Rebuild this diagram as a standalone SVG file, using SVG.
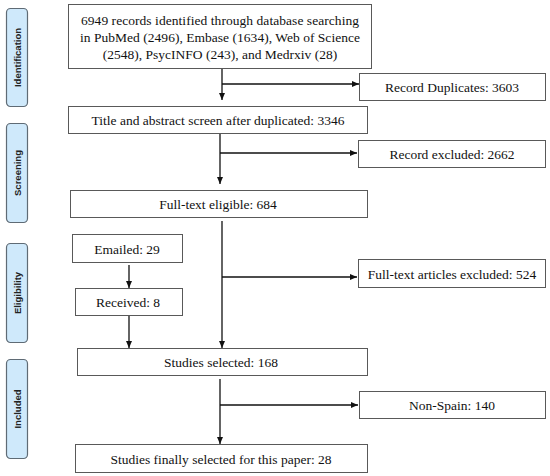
<svg xmlns="http://www.w3.org/2000/svg" width="550" height="476" viewBox="0 0 550 476">
<style>
.box{fill:#fff;stroke:#595959;stroke-width:1}
.t{font-family:"Liberation Serif","Times New Roman",serif;font-size:13.5px;fill:#111;text-anchor:middle}
.side{fill:#cfe9fb;stroke:#5f6b75;stroke-width:1.2}
.st{font-family:"Liberation Sans",Arial,sans-serif;font-size:9.5px;font-weight:bold;fill:#222;text-anchor:middle}
.c{fill:none;stroke:#111;stroke-width:1.3}
</style>
<defs>
<marker id="ah" markerWidth="8" markerHeight="8" refX="7" refY="4" orient="auto" markerUnits="userSpaceOnUse">
<path d="M0,1 L7,4 L0,7 Z" fill="#111"/>
</marker>
</defs>
<rect width="550" height="476" fill="#fff"/>
<g id="phase-identification">
<rect class="side" x="6.5" y="8.5" width="21" height="98" rx="4"/>
<text class="st" transform="translate(20.5,57.5) rotate(-90)">Identification</text>
</g>
<g id="phase-screening">
<rect class="side" x="6.5" y="123.5" width="21" height="99" rx="4"/>
<text class="st" transform="translate(20.5,173) rotate(-90)">Screening</text>
</g>
<g id="phase-eligibility">
<rect class="side" x="6.5" y="243.5" width="21" height="99" rx="4"/>
<text class="st" transform="translate(20.5,293) rotate(-90)">Eligibility</text>
</g>
<g id="phase-included">
<rect class="side" x="6.5" y="359.5" width="21" height="99" rx="4"/>
<text class="st" transform="translate(20.5,409) rotate(-90)">Included</text>
</g>
<g id="connectors">
<line class="c" x1="222" y1="68" x2="222" y2="100" marker-end="url(#ah)"/>
<line class="c" x1="222" y1="84" x2="359" y2="84" marker-end="url(#ah)"/>
<line class="c" x1="220" y1="133" x2="220" y2="184" marker-end="url(#ah)"/>
<line class="c" x1="220" y1="153" x2="357" y2="153" marker-end="url(#ah)"/>
<line class="c" x1="129" y1="265" x2="129" y2="288" marker-end="url(#ah)"/>
<line class="c" x1="129" y1="315" x2="129" y2="348" marker-end="url(#ah)"/>
<line class="c" x1="222" y1="221" x2="222" y2="348" marker-end="url(#ah)"/>
<line class="c" x1="222" y1="277" x2="357" y2="277" marker-end="url(#ah)"/>
<line class="c" x1="220" y1="379" x2="220" y2="444" marker-end="url(#ah)"/>
<line class="c" x1="220" y1="405" x2="358" y2="405" marker-end="url(#ah)"/>
</g>
<g id="records-identified">
<rect class="box" x="68.5" y="4.5" width="303" height="64"/>
<text class="t" x="220" y="25" textLength="278" lengthAdjust="spacing">6949 records identified through database searching</text>
<text class="t" x="220" y="42" textLength="280" lengthAdjust="spacing">in PubMed (2496), Embase (1634), Web of Science</text>
<text class="t" x="220" y="59">(2548), PsycINFO (243), and Medrxiv (28)</text>
</g>
<g id="record-duplicates">
<rect class="box" x="359.5" y="73.5" width="186" height="27"/>
<text class="t" x="452" y="92">Record Duplicates: 3603</text>
</g>
<g id="title-abstract">
<rect class="box" x="68.5" y="106.5" width="299" height="27"/>
<text class="t" x="218" y="125">Title and abstract screen after duplicated: 3346</text>
</g>
<g id="record-excluded">
<rect class="box" x="358.5" y="140.5" width="187" height="27"/>
<text class="t" x="452" y="159">Record excluded: 2662</text>
</g>
<g id="full-text-eligible">
<rect class="box" x="70.5" y="190.5" width="297" height="27"/>
<text class="t" x="218" y="209">Full-text eligible: 684</text>
</g>
<g id="emailed">
<rect class="box" x="72.5" y="234.5" width="110" height="28"/>
<text class="t" x="127" y="253.5">Emailed: 29</text>
</g>
<g id="received">
<rect class="box" x="75.5" y="288.5" width="107" height="27"/>
<text class="t" x="128" y="307">Received: 8</text>
</g>
<g id="full-text-excluded">
<rect class="box" x="358.5" y="259.5" width="187" height="28"/>
<text class="t" x="452" y="278.5">Full-text articles excluded: 524</text>
</g>
<g id="studies-selected">
<rect class="box" x="77.5" y="348.5" width="290" height="27"/>
<text class="t" x="221" y="367">Studies selected: 168</text>
</g>
<g id="non-spain">
<rect class="box" x="359.5" y="391.5" width="186" height="27"/>
<text class="t" x="452" y="410">Non-Spain: 140</text>
</g>
<g id="final-selected">
<rect class="box" x="75.5" y="444.5" width="292" height="28"/>
<text class="t" x="221" y="463.5">Studies finally selected for this paper: 28</text>
</g>
</svg>
